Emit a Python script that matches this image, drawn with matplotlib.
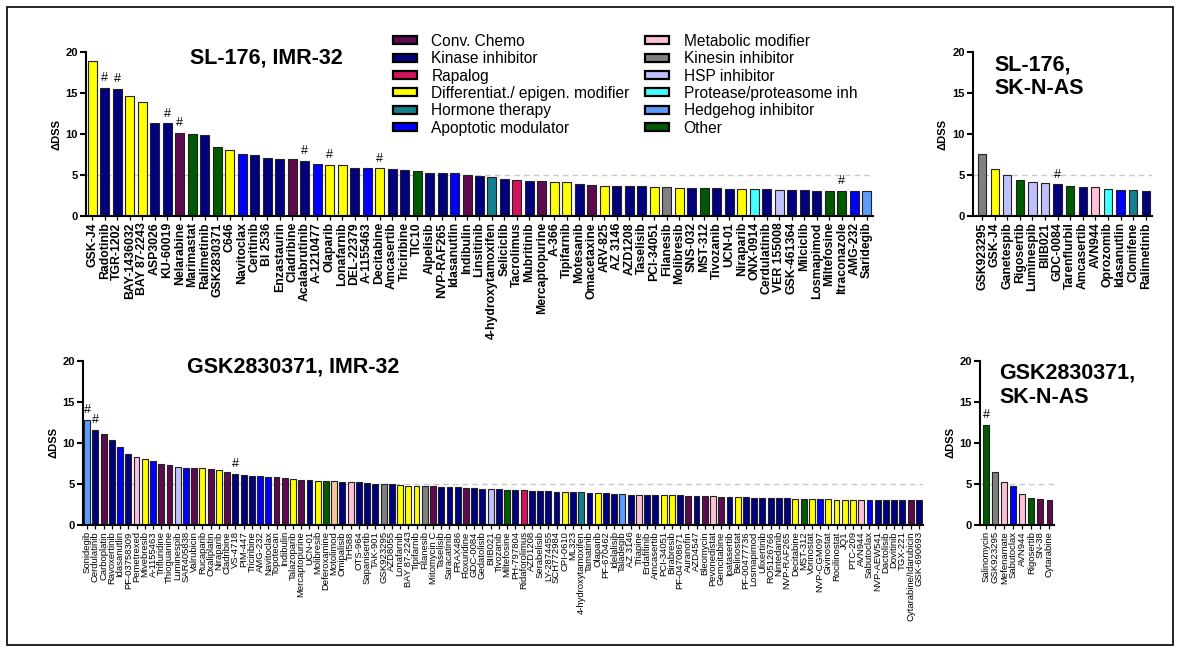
import matplotlib
matplotlib.use("Agg")
import matplotlib.pyplot as plt
from matplotlib.patches import Patch, Rectangle

plt.rcParams['font.family'] = ['Liberation Sans', 'DejaVu Sans']

# ---------------- colours per category ----------------
CAT_COLORS = {
    'chemo': '#5e0a4e', 'kinase': '#00007f', 'rapalog': '#d4125e',
    'diff': '#ffff00', 'hormone': '#14808f', 'apop': '#0000ff',
    'metab': '#ffbfd8', 'kinesin': '#808080', 'hsp': '#c0c0ff',
    'protease': '#44ffff', 'hedgehog': '#5c9cff', 'other': '#005a00',
    'peach': '#f6c49c',
}
LEGEND_LEFT = [('Conv. Chemo', 'chemo'), ('Kinase inhibitor', 'kinase'),
               ('Rapalog', 'rapalog'), ('Differentiat./ epigen. modifier', 'diff'),
               ('Hormone therapy', 'hormone'), ('Apoptotic modulator', 'apop')]
LEGEND_RIGHT = [('Metabolic modifier', 'metab'), ('Kinesin inhibitor', 'kinesin'),
                ('HSP inhibitor', 'hsp'), ('Protease/proteasome inh', 'protease'),
                ('Hedgehog inhibitor', 'hedgehog'), ('Other', 'other')]

# ---------------- SL-176, IMR-32 ----------------
tl_names = ['GSK-J4', 'Radotinib', 'TGR-1202', 'BAY-1436032', 'BAY 87-2243', 'ASP3026',
            'KU-60019', 'Nelarabine', 'Marimastat', 'Ralimetinib', 'GSK2830371', 'C646',
            'Navitoclax', 'Ceritinib', 'BI 2536', 'Enzastaurin', 'Cladribine', 'Acalabrutinib',
            'A-1210477', 'Olaparib', 'Lonafarnib', 'DEL-22379', 'A-1155463', 'Decitabine',
            'Amcasertib', 'Triciribine', 'TIC10', 'Alpelisib', 'NVP-RAF265', 'Idasanutlin',
            'Indibulin', 'Linsitinib', '4-hydroxytamoxifen', 'Seliciclib', 'Tacrolimus',
            'Mubritinib', 'Mercaptopurine', 'A-366', 'Tipifarnib', 'Motesanib', 'Omacetaxine',
            'ARV-825', 'AZ 3146', 'AZD1208', 'Taselisib', 'PCI-34051', 'Filanesib', 'Molibresib',
            'SNS-032', 'MST-312', 'Tivozanib', 'UCN-01', 'Niraparib', 'ONX-0914', 'Cerdulatinib',
            'VER 155008', 'GSK-461364', 'Milciclib', 'Losmapimod', 'Miltefosine', 'Itraconazole',
            'AMG-232', 'Saridegib']
tl_values = [18.9, 15.6, 15.5, 14.6, 13.9, 11.3, 11.3, 10.1, 10.0, 9.9, 8.4, 8.1,
             7.6, 7.5, 7.1, 7.0, 6.9, 6.7, 6.3, 6.2, 6.2, 5.9, 5.8, 5.8,
             5.7, 5.6, 5.5, 5.3, 5.2, 5.2, 5.0, 4.9, 4.8, 4.5, 4.4,
             4.3, 4.3, 4.2, 4.1, 3.9, 3.8, 3.7, 3.6, 3.6, 3.6, 3.5, 3.5, 3.4,
             3.4, 3.4, 3.4, 3.3, 3.3, 3.3, 3.3, 3.2, 3.2, 3.2, 3.1, 3.1, 3.1,
             3.0, 3.0]
tl_cats = ['diff', 'kinase', 'kinase', 'diff', 'diff', 'kinase', 'kinase', 'chemo', 'other',
           'kinase', 'other', 'diff', 'apop', 'kinase', 'kinase', 'kinase', 'chemo', 'kinase',
           'apop', 'diff', 'diff', 'kinase', 'apop', 'diff', 'kinase', 'kinase', 'other',
           'kinase', 'kinase', 'apop', 'chemo', 'kinase', 'hormone', 'kinase', 'rapalog',
           'kinase', 'chemo', 'diff', 'diff', 'kinase', 'chemo', 'diff', 'kinase', 'kinase',
           'kinase', 'diff', 'kinesin', 'diff', 'kinase', 'other', 'kinase', 'kinase', 'diff',
           'protease', 'kinase', 'hsp', 'kinase', 'kinase', 'kinase', 'other', 'other',
           'apop', 'hedgehog']
tl_hash = ['Radotinib', 'TGR-1202', 'KU-60019', 'Nelarabine', 'Acalabrutinib', 'Olaparib',
           'Decitabine', 'Itraconazole']

# ---------------- SL-176, SK-N-AS ----------------
tr_names = ['GSK923295', 'GSK-J4', 'Ganetespib', 'Rigosertib', 'Luminespib', 'BIIB021',
            'GDC-0084', 'Tarenflurbil', 'Amcasertib', 'AVN944', 'Oprozomib', 'Idasanutlin',
            'Clomifene', 'Ralimetinib']
tr_values = [7.55, 5.75, 4.95, 4.45, 4.1, 4.0, 3.85, 3.65, 3.5, 3.5, 3.25, 3.2, 3.2, 3.1]
tr_cats = ['kinesin', 'diff', 'hsp', 'other', 'hsp', 'hsp', 'kinase', 'other', 'kinase',
           'metab', 'protease', 'apop', 'hormone', 'kinase']
tr_hash = ['GDC-0084']

# ---------------- GSK2830371, IMR-32 ----------------
bl_names = ['Sonidegib', 'Cerdulatinib', 'Carboplatin', 'Ravoxertinib', 'Idasanutlin',
            'PF-03758309', 'Pemetrexed', 'Mivebresib', 'A-1155463', 'Trifluridine',
            'Thioguanine', 'Luminespib', 'SAR405838', 'Valrubicin', 'Rucaparib', 'Oxaliplatin',
            'Niraparib', 'Cladribine', 'VS-4718', 'PIM-447', 'Triciribine', 'AMG-232',
            'Navitoclax', 'Topotecan', 'Indibulin', 'Talazoparib', 'Mercaptopurine', 'UCN-01',
            'Molibresib', 'Deferoxamine', 'Motolimod', 'Omipalisib', 'TH588', 'OTS-964',
            'Sapanisertib', 'TAK-901', 'GSK923295', 'AZD8055', 'Lonafarnib', 'BAY 87-2243',
            'Tipifarnib', 'Filanesib', 'Mitomycin C', 'Taselisib', 'Saracatinib', 'FRAX486',
            'Floxuridine', 'GDC-0084', 'Gedatolisib', 'BIIB021', 'Tivozanib', 'Miltefosine',
            'PH-797804', 'Ridaforolimus', 'AZD1208', 'Serabelisib', 'LY-2874455', 'SCH772984',
            'CPI-0610', 'ML323', '4-hydroxytamoxifen', 'Tamatinib', 'Olaparib', 'PF-670462',
            'Idelalisib', 'Taladegib', 'AZ 3146', 'Triapine', 'Erdafitinib', 'Amcasertib',
            'PCI-34051', 'Birabresib', 'PF-04708671', 'Auranofin', 'AZD4547', 'Bleomycin',
            'Pevonedistat', 'Gemcitabine', 'Ipatasertib', 'Belinostat', 'PF-00477736',
            'Losmapimod', 'Ulixertinib', 'RO5126766', 'Nintedanib', 'NVP-RAF265', 'Decitabine',
            'MST-312', 'Vorinostat', 'NVP-CGM097', 'Givinostat', 'Rocilinostat', 'JQ1',
            'PTC-209', 'AVN944', 'Sabutoclax', 'NVP-AEW541', 'Dactolisib', 'Dovitinib',
            'TGX-221', 'Cytarabine/Idarubicin', 'GSK-690693']
bl_values = [12.8, 11.6, 11.1, 10.4, 9.5, 8.6, 8.3, 8.0, 7.8, 7.5,
             7.3, 7.1, 7.0, 6.9, 6.9, 6.8, 6.7, 6.5, 6.2, 6.1,
             6.0, 6.0, 5.9, 5.8, 5.7, 5.6, 5.5, 5.5, 5.4, 5.4,
             5.4, 5.3, 5.3, 5.2, 5.1, 5.0, 5.0, 5.0, 4.9, 4.8,
             4.8, 4.7, 4.7, 4.6, 4.6, 4.6, 4.5, 4.5, 4.4, 4.4,
             4.4, 4.3, 4.3, 4.3, 4.2, 4.1, 4.1, 4.0, 4.0, 4.0,
             4.0, 3.9, 3.9, 3.9, 3.8, 3.8, 3.7, 3.7, 3.7, 3.6,
             3.6, 3.6, 3.6, 3.5, 3.5, 3.5, 3.5, 3.4, 3.4, 3.4,
             3.4, 3.3, 3.3, 3.3, 3.3, 3.3, 3.2, 3.2, 3.2, 3.2,
             3.2, 3.1, 3.1, 3.1, 3.1, 3.1, 3.0, 3.0, 3.0, 3.0,
             3.0, 3.0]
bl_cats = ['hedgehog', 'kinase', 'chemo', 'kinase', 'apop', 'kinase', 'metab', 'diff', 'apop',
           'chemo', 'chemo', 'hsp', 'apop', 'chemo', 'diff', 'chemo', 'diff', 'chemo', 'kinase',
           'kinase', 'kinase', 'apop', 'apop', 'chemo', 'chemo', 'diff', 'chemo', 'kinase',
           'diff', 'other', 'peach', 'kinase', 'metab', 'kinase', 'kinase', 'kinase', 'kinesin',
           'kinase', 'diff', 'diff', 'diff', 'kinesin', 'chemo', 'kinase', 'kinase', 'kinase',
           'chemo', 'kinase', 'kinase', 'hsp', 'kinase', 'other', 'kinase', 'rapalog', 'kinase',
           'kinase', 'kinase', 'kinase', 'diff', 'kinase', 'hormone', 'kinase', 'diff', 'kinase',
           'kinase', 'hedgehog', 'kinase', 'metab', 'kinase', 'kinase', 'diff', 'diff', 'kinase',
           'chemo', 'kinase', 'chemo', 'metab', 'chemo', 'kinase', 'diff', 'kinase', 'kinase',
           'kinase', 'kinase', 'kinase', 'kinase', 'diff', 'other', 'diff', 'apop', 'diff',
           'diff', 'diff', 'diff', 'metab', 'apop', 'kinase', 'kinase', 'kinase', 'kinase',
           'chemo', 'kinase']
bl_hash = ['Sonidegib', 'Cerdulatinib', 'VS-4718']

# ---------------- GSK2830371, SK-N-AS ----------------
br_names = ['Salinomycin', 'GSK923295', 'Mefenamate', 'Sabutoclax', 'AVN944', 'Rigosertib',
            'SN-38', 'Cytarabine']
br_values = [12.2, 6.45, 5.25, 4.7, 3.8, 3.25, 3.15, 3.05]
br_cats = ['other', 'kinesin', 'metab', 'apop', 'metab', 'other', 'chemo', 'chemo']
br_hash = ['Salinomycin']

W, H = 1180, 652
fig = plt.figure(figsize=(W / 100, H / 100), dpi=100)
fig.patches.append(Rectangle((7 / W, 7 / H), 1 - 14 / W, 1 - 14 / H, transform=fig.transFigure,
                             fill=False, edgecolor='black', linewidth=1.2))


def make_panel(x0, x1, y_zero, y_top, names, values, cats, hashes, width, xleft,
               label_size, label_weight, title, title_xy, title_ha):
    ax = fig.add_axes([x0 / W, 1 - y_zero / H, (x1 - x0) / W, (y_zero - y_top) / H])
    n = len(names)
    xs = list(range(n))
    ax.axhline(5, color='#c8c8c8', linestyle=(0, (4, 3)), linewidth=1.0, zorder=0)
    ax.bar(xs, values, width=width, color=[CAT_COLORS[c] for c in cats],
           edgecolor='#222222', linewidth=0.8, zorder=2)
    for nm in hashes:
        i = names.index(nm)
        ax.text(i, values[i] + 0.45, '#', ha='center', va='bottom', fontsize=9, zorder=3)
    ax.set_xlim(xleft, n - 0.5)
    ax.set_ylim(0, 20)
    ax.set_yticks([0, 5, 10, 15, 20])
    ax.set_yticklabels(['0', '5', '10', '15', '20'], fontsize=8, fontweight='bold')
    ax.set_xticks(xs)
    ax.set_xticklabels(names, rotation=90, fontsize=label_size, fontweight=label_weight)
    ax.tick_params(axis='y', length=4, width=1.5, pad=2)
    ax.tick_params(axis='x', length=3, width=0.9, pad=1.5)
    for s in ['top', 'right']:
        ax.spines[s].set_visible(False)
    for s in ['left', 'bottom']:
        ax.spines[s].set_linewidth(1.5)
    ax.set_ylabel('ΔDSS', fontsize=8, fontweight='bold', labelpad=3)
    ax.text(title_xy[0], title_xy[1], title, transform=ax.transAxes, ha=title_ha, va='center',
            fontsize=15.5, fontweight='bold', linespacing=1.2)
    return ax


make_panel(86, 873, 216, 52, tl_names, tl_values, tl_cats, tl_hash, 0.72, -0.5,
           8.8, 'bold', 'SL-176, IMR-32', (0.229, 0.965), 'center')
make_panel(973, 1152, 216, 52, tr_names, tr_values, tr_cats, tr_hash, 0.65, -0.72,
           8.8, 'bold', 'SL-176,\nSK-N-AS', (0.12, 0.85), 'left')
make_panel(83, 923, 525, 361, bl_names, bl_values, bl_cats, bl_hash, 0.72, -0.5,
           6.8, 'normal', 'GSK2830371, IMR-32', (0.25, 0.965), 'center')
make_panel(980, 1054, 525, 361, br_names, br_values, br_cats, br_hash, 0.66, -0.7,
           6.8, 'normal', 'GSK2830371,\nSK-N-AS', (0.26, 0.85), 'left')

# legend
handles = [Patch(facecolor=CAT_COLORS[c], edgecolor='black', linewidth=1.6, label=l)
           for l, c in LEGEND_LEFT + LEGEND_RIGHT]
fig.legend(handles=handles, ncol=2, loc='upper left', bbox_to_anchor=(393 / W, 1 - 34 / H),
           frameon=False, fontsize=11.2, handlelength=1.52, handleheight=0.42,
           handletextpad=0.95, columnspacing=1.0, labelspacing=0.15, borderpad=0,
           borderaxespad=0)

fig.savefig('out.png', dpi=100)
